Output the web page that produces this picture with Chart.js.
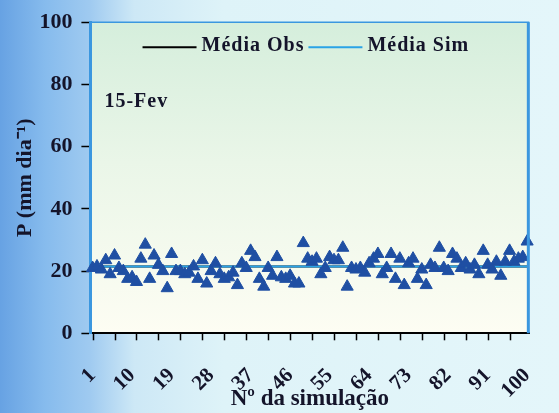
<!DOCTYPE html>
<html>
<head>
<meta charset="utf-8">
<script src="https://cdn.jsdelivr.net/npm/chart.js@4.4.0/dist/chart.umd.min.js"></script>
<style>
html, body { margin: 0; padding: 0; }
body {
    width: 559px; height: 413px; overflow: hidden;
    background: linear-gradient(to right, #67a2e3 0%, #86bbed 8%, #9fcaf0 16%, #cde8f6 24%, #def3f8 40%, #e4f6fa 100%);
}
#wrap { position: relative; width: 559px; height: 413px; }
</style>
</head>
<body>
<div id="wrap"><canvas id="grafico"></canvas></div>
<script>
// Nº da simulação (1..100)
const simulacoes = Array.from({ length: 100 }, (_, i) => String(i + 1));

// Precipitação simulada, 15-Fev (mm/dia)
const precipSim = [
    21, 21.5, 20.5, 23.5, 19, 25, 21, 20, 17.5, 18,
    16.5, 24, 28.5, 17.5, 25, 22, 20, 14.5, 25.5, 20,
    20, 19, 19.5, 21.5, 17.5, 23.5, 16, 20, 22.5, 19,
    17.5, 18, 19.5, 15.5, 22.5, 21, 26.5, 24.5, 17.5, 15,
    21, 18.5, 24.5, 18, 17.5, 18.5, 16, 16, 29, 24,
    23, 24, 19, 21, 24.5, 23.5, 23.5, 27.5, 15, 21,
    20.5, 21, 19.5, 22.5, 24, 25.5, 19, 21, 25.5, 17.5,
    24, 15.5, 22.5, 24, 17.5, 20.5, 15.5, 22, 21, 27.5,
    21, 20, 25.5, 24, 21, 22.5, 20.5, 22, 19, 26.5,
    22, 20.5, 23, 18.5, 23, 26.5, 23, 24, 24.5, 29.5
];

// Médias
const mediaObs = 21.5;
const mediaSim = 21.5;

const fonteSerif = "'Liberation Serif', 'Times New Roman', serif";
const corTexto = '#14142a';

// fundo da área do gráfico, bordas, marcas do eixo x, legenda e rótulo 15-Fev
const fundoPlugin = {
    id: 'fundo',
    beforeDraw(chart) {
        const { ctx, chartArea: a } = chart;
        const g = ctx.createLinearGradient(0, a.top, 0, a.bottom);
        g.addColorStop(0, '#d5eedc');
        g.addColorStop(0.45, '#eaf6e8');
        g.addColorStop(1, '#fdfdf3');
        ctx.save();
        ctx.fillStyle = g;
        ctx.fillRect(a.left, a.top, a.right - a.left, a.bottom - a.top);
        ctx.restore();
    },
    afterDraw(chart) {
        const { ctx, chartArea: a } = chart;
        const xs = chart.scales.x;
        ctx.save();
        // marcas do eixo x a cada 5 simulações
        ctx.strokeStyle = '#000';
        ctx.lineWidth = 1.5;
        xs.ticks.forEach((t, i) => {
            if (i % 5 !== 0) return;
            const px = Math.round(xs.getPixelForTick(i)) + 0.5;
            ctx.beginPath();
            ctx.moveTo(px, a.bottom);
            ctx.lineTo(px, a.bottom + 7);
            ctx.stroke();
        });

        ctx.strokeStyle = '#3b97df';
        ctx.lineWidth = 1.5;
        ctx.beginPath();
        ctx.moveTo(a.left, a.top);
        ctx.lineTo(a.right, a.top);
        ctx.stroke();
        ctx.lineWidth = 3;
        ctx.beginPath();
        ctx.moveTo(a.right - 1, a.top);
        ctx.lineTo(a.right - 1, a.bottom);
        ctx.stroke();

        // legenda: Média Obs, Média Sim
        ctx.font = 'bold 20px ' + fonteSerif;
        ctx.letterSpacing = '1px';
        ctx.textBaseline = 'middle';
        const itens = [chart.data.datasets[2], chart.data.datasets[1]];
        const linha = 54, gap = 5;
        let total = 0;
        itens.forEach(d => { total += linha + gap + ctx.measureText(d.label).width + 4; });
        let x = (a.left + a.right) / 2 - total / 2 - 2;
        const y = a.top + 24;
        itens.forEach(d => {
            ctx.strokeStyle = d.borderColor;
            ctx.lineWidth = 2;
            ctx.beginPath();
            ctx.moveTo(x, y + 1);
            ctx.lineTo(x + linha, y + 1);
            ctx.stroke();
            x += linha + gap;
            ctx.fillStyle = corTexto;
            ctx.fillText(d.label, x, y);
            x += ctx.measureText(d.label).width + 4;
        });

        ctx.font = 'bold 20px ' + fonteSerif;
        ctx.fillText('15-Fev', a.left + 14, a.top + 80);
        ctx.restore();
    }
};

const ctx = document.getElementById('grafico').getContext('2d');
const grafico = new Chart(ctx, {
    type: 'line',
    data: {
        labels: simulacoes,
        datasets: [{
            label: 'Simulação',
            data: precipSim,
            showLine: false,
            pointStyle: 'triangle',
            pointRadius: 7,
            pointBackgroundColor: '#1f4fa3',
            pointBorderColor: '#1f4fa3',
            pointBorderWidth: 1,
            order: 0
        }, {
            label: 'Média Sim',
            data: simulacoes.map(() => mediaSim),
            borderColor: '#2aa3e6',
            borderWidth: 2,
            pointRadius: 0,
            order: 1
        }, {
            label: 'Média Obs',
            data: simulacoes.map(() => mediaObs),
            borderColor: '#000000',
            borderWidth: 2,
            pointRadius: 0,
            order: 2
        }]
    },
    options: {
        responsive: true,
        maintainAspectRatio: false,
        animation: false,
        layout: { padding: { top: 10, right: 2, left: 12, bottom: 0 } },
        plugins: {
            tooltip: { enabled: false },
            legend: { display: false }
        },
        scales: {
            x: {
                offset: true,
                grid: {
                    display: true,
                    drawOnChartArea: false,
                    offset: false,
                    tickLength: 16,
                    tickColor: 'rgba(0,0,0,0)'
                },
                border: { color: '#000', width: 2 },
                ticks: {
                    autoSkip: false,
                    minRotation: 45,
                    maxRotation: 45,
                    padding: 14,
                    color: corTexto,
                    font: { family: fonteSerif, size: 21, weight: 'bold' },
                    callback: function (v, i) { return i % 9 === 0 ? this.getLabelForValue(v) : ''; }
                },
                title: {
                    display: true,
                    text: 'Nº da simulação',
                    color: corTexto,
                    padding: { top: -32, bottom: 0 },
                    font: { family: fonteSerif, size: 23, weight: 'bold' }
                }
            },
            y: {
                min: 0,
                max: 100,
                ticks: {
                    stepSize: 20,
                    padding: 9,
                    color: corTexto,
                    font: { family: fonteSerif, size: 22, weight: 'bold' }
                },
                grid: {
                    drawOnChartArea: false,
                    tickLength: 9,
                    tickWidth: 1.5,
                    tickColor: '#000'
                },
                border: { color: '#3b97df', width: 3 },
                title: {
                    display: true,
                    text: 'P (mm dia⁻¹)',
                    color: corTexto,
                    padding: { top: 0, bottom: -8 },
                    font: { family: fonteSerif, size: 22, weight: 'bold' }
                }
            }
        }
    },
    plugins: [fundoPlugin]
});
</script>
</body>
</html>
